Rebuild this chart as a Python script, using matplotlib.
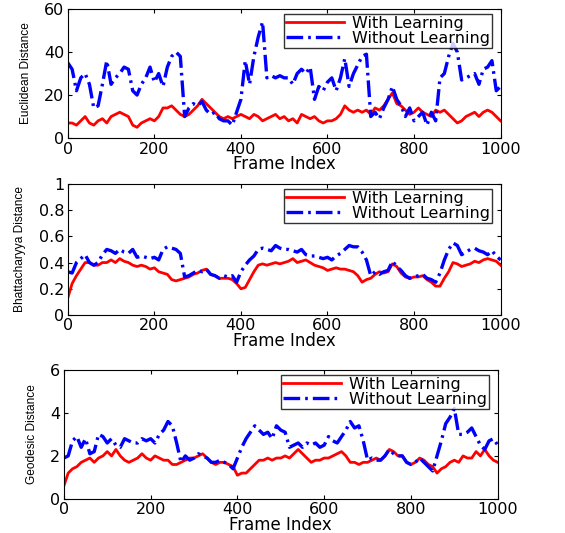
"""
Distance to ground truth per frame, with and without learning
"""

import matplotlib
matplotlib.use('Agg')
import matplotlib.pyplot as plt
from matplotlib import font_manager
import numpy as np

#---------------------------------------------------------------------------------------------------
# Data (sampled every 10 frames, read off the figure)
#---------------------------------------------------------------------------------------------------

frames = np.arange(0, 1001, 10)

eucl_with = [7, 7, 6, 8, 10, 7, 6, 8, 9, 7, 10,
             11, 12, 11, 10, 6, 5, 7, 8, 9, 8,
             10, 14, 14, 15, 13, 11, 10, 11, 13, 15,
             18, 16, 14, 12, 10, 9, 10, 9, 10, 11,
             10, 9, 11, 10, 8, 9, 10, 11, 9, 10,
             8, 9, 7, 11, 10, 9, 10, 8, 7, 8,
             8, 9, 11, 15, 13, 12, 13, 12, 13, 11,
             14, 13, 15, 18, 21, 16, 15, 13, 11, 12,
             14, 12, 11, 10, 13, 12, 13, 11, 9, 7,
             8, 10, 11, 12, 10, 12, 13, 12, 10, 8]
eucl_without = [35, 32, 22, 28, 30, 25, 14, 15, 25, 36, 25,
                28, 30, 33, 32, 22, 20, 25, 28, 33, 26,
                30, 24, 33, 38, 40, 38, 10, 14, 16, 15,
                17, 13, 11, 12, 9, 8, 8, 6, 12, 18,
                36, 25, 38, 47, 54, 28, 29, 28, 29, 28,
                28, 25, 30, 32, 30, 33, 18, 24, 22, 26,
                28, 22, 28, 37, 24, 30, 34, 38, 39, 10,
                12, 9, 14, 18, 24, 18, 15, 10, 14, 8,
                10, 12, 6, 12, 8, 28, 30, 38, 44, 40,
                27, 28, 29, 30, 25, 32, 33, 36, 22, 24]

bhat_with = [0.13, 0.24, 0.30, 0.35, 0.40, 0.40, 0.38, 0.38, 0.40, 0.40, 0.42,
             0.40, 0.43, 0.41, 0.40, 0.38, 0.37, 0.38, 0.37, 0.35, 0.36,
             0.33, 0.32, 0.31, 0.27, 0.26, 0.27, 0.28, 0.29, 0.31, 0.32,
             0.34, 0.35, 0.31, 0.30, 0.28, 0.28, 0.28, 0.27, 0.24, 0.20,
             0.21, 0.27, 0.33, 0.38, 0.39, 0.38, 0.39, 0.40, 0.39, 0.40,
             0.41, 0.43, 0.40, 0.41, 0.42, 0.40, 0.38, 0.37, 0.36, 0.34,
             0.35, 0.36, 0.35, 0.35, 0.34, 0.33, 0.30, 0.25, 0.27, 0.28,
             0.31, 0.33, 0.32, 0.33, 0.39, 0.37, 0.32, 0.29, 0.28, 0.29,
             0.29, 0.30, 0.27, 0.25, 0.22, 0.22, 0.28, 0.33, 0.40, 0.39,
             0.37, 0.38, 0.39, 0.41, 0.40, 0.42, 0.43, 0.42, 0.41, 0.38]
bhat_without = [0.33, 0.32, 0.40, 0.43, 0.46, 0.40, 0.38, 0.40, 0.46, 0.50, 0.49,
                0.47, 0.50, 0.48, 0.47, 0.50, 0.44, 0.45, 0.44, 0.43, 0.44,
                0.42, 0.50, 0.52, 0.51, 0.50, 0.47, 0.29, 0.30, 0.32, 0.34,
                0.33, 0.35, 0.31, 0.30, 0.28, 0.30, 0.29, 0.30, 0.25, 0.33,
                0.38, 0.42, 0.45, 0.50, 0.51, 0.50, 0.49, 0.53, 0.51, 0.50,
                0.50, 0.49, 0.48, 0.50, 0.46, 0.45, 0.45, 0.44, 0.43, 0.44,
                0.42, 0.45, 0.47, 0.50, 0.53, 0.52, 0.52, 0.48, 0.42, 0.30,
                0.33, 0.31, 0.33, 0.34, 0.41, 0.37, 0.34, 0.30, 0.28, 0.29,
                0.30, 0.31, 0.28, 0.27, 0.25, 0.32, 0.42, 0.50, 0.55, 0.53,
                0.46, 0.48, 0.50, 0.51, 0.49, 0.48, 0.46, 0.49, 0.45, 0.42]

geod_with = [0.6, 1.2, 1.4, 1.5, 1.7, 1.8, 1.9, 1.7, 1.9, 2.0, 2.2,
             2.0, 2.3, 2.0, 1.8, 1.7, 1.8, 1.9, 2.1, 1.9, 1.8,
             2.0, 1.9, 1.8, 1.8, 1.6, 1.6, 1.7, 1.8, 1.9, 1.9,
             2.0, 2.1, 1.9, 1.7, 1.6, 1.7, 1.7, 1.6, 1.5, 1.1,
             1.2, 1.2, 1.4, 1.6, 1.8, 1.8, 1.9, 1.8, 1.9, 1.9,
             2.0, 1.9, 2.1, 2.3, 2.1, 1.9, 1.7, 1.8, 1.8, 1.9,
             1.9, 2.0, 2.1, 2.2, 2.0, 1.7, 1.7, 1.6, 1.7, 1.7,
             1.8, 1.9, 1.8, 2.0, 2.3, 2.2, 2.0, 2.0, 1.7, 1.6,
             1.7, 1.9, 1.8, 1.6, 1.5, 1.2, 1.4, 1.5, 1.7, 1.8,
             1.7, 2.0, 1.9, 1.9, 2.2, 2.0, 2.3, 2.0, 1.8, 1.7]
geod_without = [1.9, 2.0, 2.7, 2.9, 2.4, 2.8, 2.1, 2.2, 3.0, 2.9, 2.6,
                2.8, 2.5, 2.4, 2.8, 2.7, 2.6, 2.6, 2.8, 2.7, 2.8,
                2.6, 3.0, 3.2, 3.6, 3.4, 2.6, 1.7, 2.0, 1.8, 1.9,
                2.1, 2.0, 1.9, 1.7, 1.7, 1.8, 1.7, 1.6, 1.4, 1.9,
                2.4, 2.8, 3.1, 3.4, 3.2, 3.0, 3.1, 2.8, 3.4, 3.2,
                3.1, 2.4, 2.5, 2.6, 2.4, 2.6, 2.5, 2.6, 2.4, 2.5,
                2.9, 2.7, 2.6, 2.9, 3.2, 3.6, 3.3, 3.4, 2.7, 1.8,
                1.9, 1.8, 1.8, 2.0, 2.3, 2.1, 2.0, 2.0, 1.7, 1.6,
                1.7, 1.9, 1.7, 1.5, 1.3, 2.0, 2.7, 3.5, 3.8, 4.2,
                3.0, 3.0, 3.1, 3.3, 2.9, 2.5, 2.3, 2.7, 2.8, 2.5]

panels = [('Euclidean Distance', eucl_with, eucl_without, 60, [0, 20, 40, 60]),
          ('Bhattacharyya Distance', bhat_with, bhat_without, 1, [0, 0.2, 0.4, 0.6, 0.8, 1]),
          ('Geodesic Distance', geod_with, geod_without, 6, [0, 2, 4, 6])]

# axes rectangles in figure fractions
rects = [[0.120, 0.741, 0.766, 0.242],
         [0.120, 0.409, 0.766, 0.246],
         [0.113, 0.064, 0.768, 0.242]]

#---------------------------------------------------------------------------------------------------
# Main Program
#---------------------------------------------------------------------------------------------------

# condensed face for the y labels, if there is one
names = {f.name for f in font_manager.fontManager.ttflist}
narrow = 'Liberation Sans'
for cand in ['Liberation Sans Narrow', 'DejaVu Sans Condensed']:
    if cand in names:
        narrow = cand
        break

plt.rcParams['font.family'] = ['DejaVu Sans']
fig = plt.figure(figsize=(5.65, 5.33), dpi=100)

for (ylab, yw, ywo, ymax, yticks), r in zip(panels, rects):
    ax = fig.add_axes(r)
    ax.plot(frames, yw, color='#ff0000', lw=2.0, label='With Learning')
    ax.plot(frames, ywo, color='#0000ff', lw=2.4, ls=(0, (5, 1.5, 0.8, 1.5)), label='Without Learning')
    ax.set_xlim(0, 1000)
    ax.set_ylim(0, ymax)
    ax.set_xticks([0, 200, 400, 600, 800, 1000])
    ax.set_yticks(yticks)
    ax.set_yticklabels([f'{t:g}' for t in yticks])
    ax.tick_params(direction='in', length=3, labelsize=11.5, top=True, right=True, pad=2.5)
    ax.set_xlabel('Frame Index', fontsize=12, labelpad=-1)
    ax.set_ylabel(ylab, fontsize=8.6, family=narrow, labelpad=9)
    leg = ax.legend(loc='upper right', bbox_to_anchor=(0.979, 0.961), borderaxespad=0,
                    fontsize=11.5, frameon=True, fancybox=False,
                    edgecolor='k', borderpad=0.12, labelspacing=0.0, handlelength=3.6,
                    handletextpad=0.5)
    leg.get_frame().set_linewidth(1.0)

plt.savefig('out.png', dpi=100)
